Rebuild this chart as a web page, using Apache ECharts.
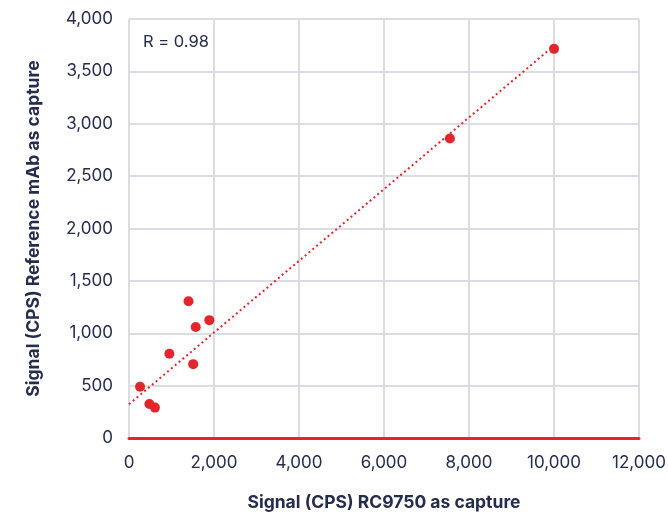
<!DOCTYPE html>
<html>
<head>
<meta charset="utf-8">
<script src="https://cdn.jsdelivr.net/npm/echarts@6/dist/echarts.min.js"></script>
<style>html,body{margin:0;padding:0;background:#fff}#c{width:668px;height:515px}</style>
</head>
<body>
<div id="c"></div>
<script>
var xValues = [260, 480, 610, 950, 1400, 1510, 1570, 1890, 7550, 10000];
var yValues = [490, 325, 290, 805, 1305, 705, 1060, 1125, 2860, 3715];
var trendX = [0, 9870];
var trendY = [322, 3700];
var xTitle = 'Signal (CPS) RC9750 as capture';
var yTitle = 'Signal (CPS) Reference mAb as capture';
var rLabel = 'R = 0.98';

var textColor = '#252c4d';
var gridColor = '#dcdce3';
var red = '#e3262b';
var font = 'Inter';

var chart = echarts.init(document.getElementById('c'), null, {renderer: 'canvas'});
chart.setOption({
  animation: false,
  backgroundColor: '#fff',
  grid: {left: 129, right: 29, top: 19, bottom: 77, containLabel: false, outerBoundsMode: 'none'},
  xAxis: {
    type: 'value', min: 0, max: 12000, interval: 2000,
    name: xTitle, nameLocation: 'middle', nameGap: 56,
    nameTextStyle: {color: textColor, fontFamily: font, fontWeight: 'bold', fontSize: 17.5},
    axisLine: {show: true, onZero: true, lineStyle: {color: red, width: 3}},
    axisTick: {show: false},
    axisLabel: {color: textColor, fontFamily: font, fontSize: 17, margin: 16,
      formatter: function (v) { return v.toLocaleString('en-US'); }},
    splitLine: {show: true, showMinLine: true, showMaxLine: true, lineStyle: {color: gridColor, width: 2}}
  },
  yAxis: {
    type: 'value', min: 0, max: 4000, interval: 500,
    name: yTitle, nameLocation: 'middle', nameGap: 86, nameRotate: 90,
    nameTextStyle: {color: textColor, fontFamily: font, fontWeight: 'bold', fontSize: 17.5},
    axisLine: {show: false},
    axisTick: {show: false},
    axisLabel: {color: textColor, fontFamily: font, fontSize: 17, margin: 16,
      formatter: function (v) { return v.toLocaleString('en-US'); }},
    splitLine: {show: true, showMinLine: false, showMaxLine: true, lineStyle: {color: gridColor, width: 2}}
  },
  graphic: [{
    type: 'text', left: 143, top: 34, z: 10,
    style: {text: rLabel, fill: textColor, font: '16.5px ' + font}
  }],
  series: [
    {
      type: 'line', data: trendX.map(function (x, i) { return [x, trendY[i]]; }),
      showSymbol: false, silent: true, z: 3,
      lineStyle: {color: red, width: 2, type: [2, 3]}
    },
    {
      type: 'scatter', data: xValues.map(function (x, i) { return [x, yValues[i]]; }),
      symbol: 'circle', symbolSize: 10, z: 4,
      itemStyle: {color: red, opacity: 1}
    }
  ]
});
</script>
</body>
</html>
